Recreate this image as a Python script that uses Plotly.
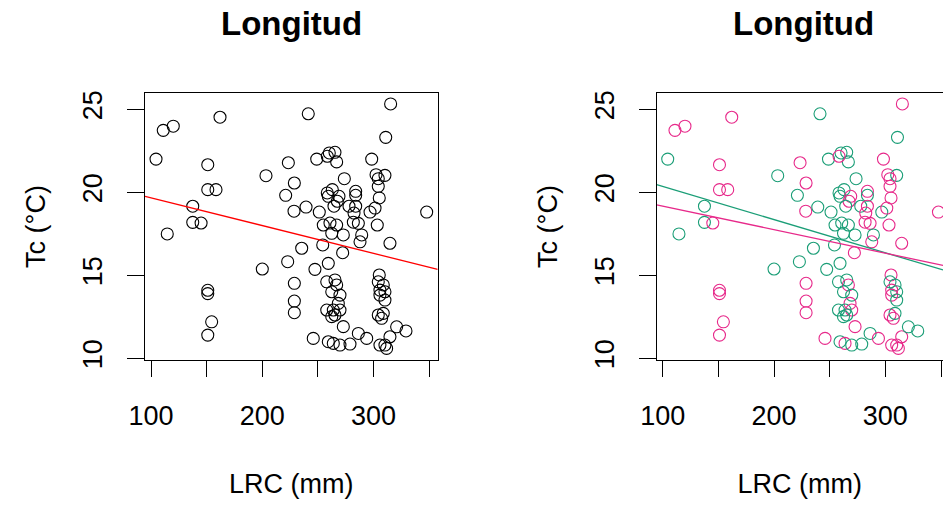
import plotly.graph_objects as go

# LRC (mm) and Tc (°C) per specimen, with group: "A" (green) / "B" (pink)
lrc = [162, 111, 120, 104.5, 151, 203.3, 223.4, 228.8, 151, 158.4,
       221, 228.5, 137.5, 137.5, 145, 114.6, 200, 222.8, 235.4, 151,
       151, 154.5, 151, 228.8, 228.8, 228.8, 315.3, 241.3, 310.9, 298.3,
       248.9, 260.2, 265.3, 266.8, 258.4, 239.3, 251.2, 273.7, 302.2, 310.2,
       304.2, 304.2, 305.1, 296.8, 301.3, 347.7, 258.4, 262.9, 259.3, 268.9,
       283.9, 283.9, 267.4, 277.9, 283.9, 264.4, 282.4, 254.8, 260.8, 266.8,
       281.8, 286.3, 303.3, 262.4, 272.8, 289.3, 287.8, 314.7, 254.3, 272.2,
       247.3, 259.3, 257.9, 265.3, 266.8, 262.4, 269.8, 268.3, 257.9, 263.8,
       269.8, 265.3, 272.8, 262.4, 305.1, 304.2, 308.7, 305.7, 310.2, 305.7,
       310.2, 304.2, 308.7, 307.2, 245.8, 259.3, 263.8, 269.8, 278.8, 286.3,
       293.8, 305.7, 310.2, 311.7, 314.7, 320.7, 329.1]
tc = [24.52, 23.73, 23.98, 22.0, 21.66, 21.0, 21.78, 20.56, 20.16, 20.16,
      19.82, 18.86, 19.16, 18.19, 18.15, 17.49, 15.38, 15.82, 16.63, 14.1,
      13.9, 12.2, 11.4, 14.52, 13.45, 12.75, 25.32, 24.73, 23.31, 22.0,
      22.0, 22.37, 22.41, 21.83, 22.17, 19.11, 18.81, 20.82, 21.06, 21.02,
      20.82, 20.36, 19.66, 18.81, 19.05, 18.81, 19.96, 20.16, 19.76, 19.76,
      20.06, 19.82, 19.46, 19.16, 19.16, 19.16, 18.75, 18.03, 18.15, 18.03,
      18.2, 18.13, 18.03, 17.53, 17.43, 17.43, 17.02, 16.93, 16.83, 16.36,
      15.36, 15.72, 14.61, 14.72, 14.42, 14.01, 13.81, 13.31, 12.91, 12.91,
      12.91, 12.61, 11.91, 12.51, 15.02, 14.61, 14.42, 14.11, 14.01, 13.81,
      13.51, 12.61, 12.71, 12.41, 11.2, 11.0, 10.9, 10.8, 10.86, 11.5,
      11.2, 10.8, 10.8, 10.6, 11.3, 11.9, 11.65]
group = ["B", "B", "B", "A", "B", "A", "B", "B", "B", "B",
         "A", "B", "A", "A", "B", "A", "A", "A", "A", "B",
         "B", "B", "B", "B", "B", "B", "B", "A", "A", "B",
         "A", "A", "A", "A", "B", "A", "A", "A", "B", "A",
         "B", "B", "B", "A", "B", "B", "A", "A", "A", "B",
         "B", "A", "B", "A", "B", "A", "B", "A", "A", "A",
         "B", "B", "B", "A", "A", "A", "B", "B", "A", "B",
         "A", "A", "A", "A", "B", "A", "A", "B", "A", "A",
         "B", "A", "B", "A", "B", "A", "A", "B", "A", "B",
         "A", "B", "A", "B", "B", "A", "B", "A", "A", "A",
         "B", "B", "B", "B", "B", "A", "A"]

# Fitted lines (intercept, slope) of Tc on LRC
fit_all = (21.34, -0.01673)
fit_a = (22.35, -0.01998)
fit_b = (20.59, -0.01419)

group_colors = {"A": "#1B9E77", "B": "#E7298A"}

x_ticks = [100, 150, 200, 250, 300, 350]
x_ticktext = ["100", "", "200", "", "300", ""]
y_ticks = [10, 15, 20, 25]

W, H = 943, 506
FONT = "Liberation Sans, Arial, sans-serif"
x_range_left = [94.6, 357.6]
x_range_right = [94.6, 351.8]
y_range = [9.9, 25.98]

fig = go.Figure()

# Left panel: all specimens
fig.add_trace(go.Scatter(
    x=lrc, y=tc, mode="markers", xaxis="x", yaxis="y",
    marker=dict(symbol="circle-open", size=12, color="black", line=dict(width=1.1)),
    showlegend=False, hoverinfo="skip"))
fig.add_trace(go.Scatter(
    x=x_range_left, y=[fit_all[0] + fit_all[1] * v for v in x_range_left],
    mode="lines", xaxis="x", yaxis="y", line=dict(color="#FF0000", width=1.3),
    showlegend=False, hoverinfo="skip"))

# Right panel: coloured by group, one fitted line per group
fig.add_trace(go.Scatter(
    x=lrc, y=tc, mode="markers", xaxis="x2", yaxis="y2",
    marker=dict(symbol="circle-open", size=12,
                color=[group_colors[g] for g in group], line=dict(width=1.1)),
    showlegend=False, hoverinfo="skip"))
for key, fit in (("A", fit_a), ("B", fit_b)):
    fig.add_trace(go.Scatter(
        x=x_range_right, y=[fit[0] + fit[1] * v for v in x_range_right],
        mode="lines", xaxis="x2", yaxis="y2",
        line=dict(color=group_colors[key], width=1.3),
        showlegend=False, hoverinfo="skip"))

box_top, box_bottom = 93, 360
y_dom = [(H - box_bottom) / H, (H - box_top) / H]

common_x = dict(
    tickvals=x_ticks, ticktext=x_ticktext, ticks="outside", ticklen=16,
    tickwidth=1, tickcolor="black", showline=True, linecolor="black", linewidth=1,
    mirror=True, showgrid=False, zeroline=False, automargin=False,
    tickfont=dict(family=FONT, size=27, color="black"), ticklabelstandoff=16,
    title=dict(text="LRC (mm)", font=dict(family=FONT, size=27, color="black"), standoff=43),
)
common_y = dict(
    range=y_range, tickvals=y_ticks, ticks="outside", ticklen=17, tickwidth=1,
    tickcolor="black", showline=True, linecolor="black", linewidth=1,
    showgrid=False, zeroline=False, tickangle=-90, domain=y_dom, automargin=False,
    tickfont=dict(family=FONT, size=27, color="black"), ticklabelstandoff=14,
    title=dict(text="Tc (°C)", font=dict(family=FONT, size=27, color="black"), standoff=24),
)

fig.update_layout(
    width=W, height=H, margin=dict(l=0, r=0, t=0, b=0),
    paper_bgcolor="white", plot_bgcolor="white",
    xaxis=dict(domain=[145 / W, 437.7 / W], range=x_range_left, anchor="y", **common_x),
    yaxis=dict(anchor="x", mirror=True, **common_y),
    xaxis2=dict(domain=[656.7 / W, 1.0], range=x_range_right, anchor="y2", **common_x),
    yaxis2=dict(anchor="x2", mirror=False, **common_y),
    annotations=[
        dict(text="<b>Longitud</b>", x=(145 + 437.7) / 2 / W, y=1 - 23.5 / H,
             xref="paper", yref="paper", xanchor="center", yanchor="middle",
             showarrow=False, font=dict(family=FONT, size=33, color="black")),
        dict(text="<b>Longitud</b>", x=(656.7 + 949.4) / 2 / W, y=1 - 23.5 / H,
             xref="paper", yref="paper", xanchor="center", yanchor="middle",
             showarrow=False, font=dict(family=FONT, size=33, color="black")),
    ],
)

fig.write_html("out.html")
